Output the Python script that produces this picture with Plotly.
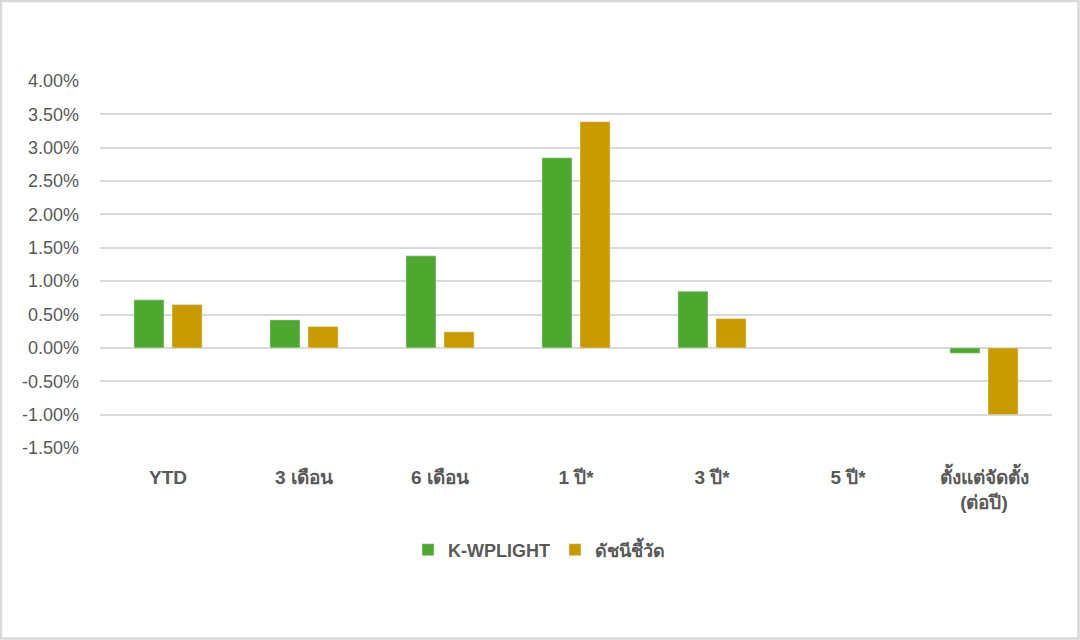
import plotly.graph_objects as go

# period labels and returns (%)
categories = ["YTD", "3 เดือน", "6 เดือน", "1 ปี*", "3 ปี*", "5 ปี*", "ตั้งแต่จัดตั้ง<br>(ต่อปี)"]
fund = [0.72, 0.42, 1.38, 2.85, 0.85, None, -0.08]
benchmark = [0.65, 0.32, 0.24, 3.39, 0.44, None, -1.00]

tick_vals = [4.0, 3.5, 3.0, 2.5, 2.0, 1.5, 1.0, 0.5, 0.0, -0.5, -1.0, -1.5]
tick_text = ["4.00%", "3.50%", "3.00%", "2.50%", "2.00%", "1.50%", "1.00%",
             "0.50%", "0.00%", "-0.50%", "-1.00%", "-1.50%"]

font_family = "Liberation Sans, Arial, Noto Sans, sans-serif"
grey = "#595959"

fig = go.Figure()
fig.add_trace(go.Bar(x=categories, y=fund, name="K-WPLIGHT", marker_color="#4EA72E"))
fig.add_trace(go.Bar(x=categories, y=benchmark, name="ดัชนีชี้วัด", marker_color="#C99A00"))

# margins in px so the plot area sits where the original one does
L, R, T, B = 100, 28, 81, 192
W, H = 1080, 640
pw, ph = W - L - R, H - T - B

fig.update_layout(
    width=W, height=H,
    margin=dict(l=L, r=R, t=T, b=B),
    paper_bgcolor="white", plot_bgcolor="white",
    barmode="group", bargap=0.44, bargroupgap=0.21,
    font=dict(family=font_family, color=grey),
    xaxis=dict(
        showgrid=False, showline=False, ticks="",
        tickfont=dict(size=19, color=grey, weight="bold"),
        ticklabelstandoff=16,
    ),
    yaxis=dict(
        range=[-1.5, 4.0], tickvals=tick_vals, ticktext=tick_text,
        showgrid=True, gridcolor="#d9d9d9", gridwidth=1.5,
        zeroline=False, showline=False,
        tickfont=dict(size=18, color=grey),
        ticklabelstandoff=20,
    ),
    legend=dict(
        orientation="h", x=(539 - L) / pw, xanchor="center",
        y=-(550 - (T + ph)) / ph, yanchor="middle",
        font=dict(size=18, color=grey, weight="bold"),
        itemwidth=30, traceorder="normal",
    ),
    shapes=[dict(
        type="rect", xref="paper", yref="paper", layer="below",
        x0=-(L - 1) / pw, x1=1 + (R - 1.5) / pw,
        y0=-(B - 1.5) / ph, y1=1 + (T - 1) / ph,
        line=dict(color="#d9d9d9", width=2.5),
    )],
)

# drop the page's default body margin so the figure starts at the window corner
fig.write_html("out.html", config={"displayModeBar": False},
               post_script="document.body.style.margin='0';")
